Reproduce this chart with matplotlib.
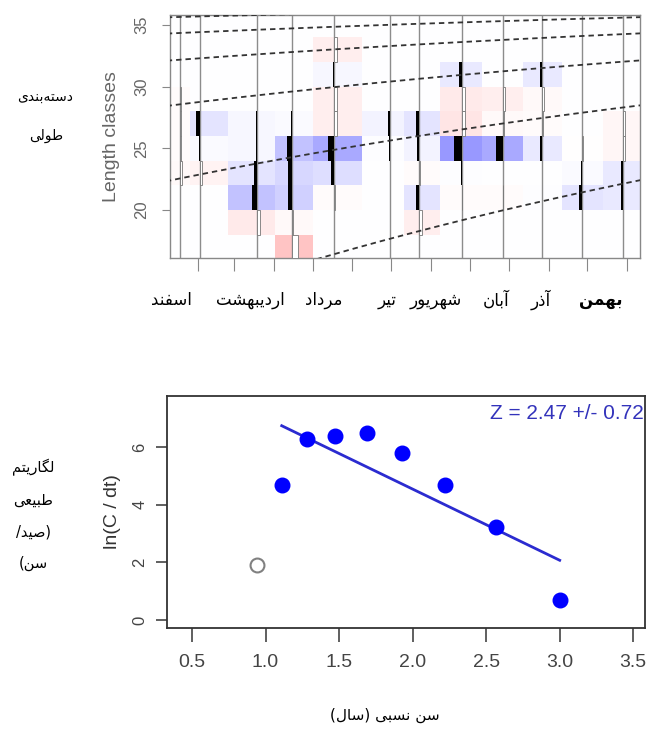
import numpy as np
import matplotlib
matplotlib.use("Agg")
import matplotlib.pyplot as plt
import matplotlib.dates as mdates
from matplotlib.colors import LinearSegmentedColormap
from matplotlib.patches import Rectangle
from matplotlib import font_manager

W, H = 648, 736

# ---------------- data (top panel: restructured length frequencies)
sample_dates = np.array(['2015-01-18', '2015-02-02', '2015-03-19', '2015-04-15',
                         '2015-05-18', '2015-06-30', '2015-07-23', '2015-08-25',
                         '2015-09-26', '2015-10-27', '2015-11-27', '2015-12-29'],
                        dtype='datetime64[D]')
length_edges = [16, 18, 20, 22, 24, 26, 28, 30, 32, 34, 36]
# one row per sample, one column per length class (16-18 ... 34-36)
scores = np.array([
    [0.00, 0.00, 0.00, -0.15, -0.10, -0.10, -0.10, 0.00, 0.00, 0.00],
    [0.00, 0.00, 0.00, -0.25, 0.10, 0.35, 0.00, 0.00, 0.00, 0.00],
    [0.00, -0.35, 0.60, 0.35, 0.15, 0.15, 0.00, 0.00, 0.00, 0.00],
    [-0.70, -0.15, 0.50, 0.45, 0.60, 0.10, 0.00, 0.00, 0.00, 0.00],
    [0.00, 0.00, -0.10, 0.40, 0.75, -0.30, -0.30, 0.15, -0.30, 0.00],
    [0.00, 0.00, 0.00, 0.00, 0.05, 0.20, 0.00, 0.00, 0.00, 0.00],
    [0.00, -0.30, 0.35, -0.10, 0.20, 0.35, 0.00, 0.00, 0.00, 0.00],
    [0.00, 0.00, -0.10, 0.05, 0.85, -0.40, -0.35, 0.30, 0.00, 0.00],
    [0.00, 0.00, -0.10, 0.00, 0.75, -0.15, -0.30, 0.00, 0.00, 0.00],
    [0.00, 0.00, 0.05, 0.00, 0.30, -0.10, -0.15, 0.30, 0.00, 0.00],
    [0.00, 0.00, 0.35, 0.10, -0.05, 0.00, 0.00, 0.00, 0.00, 0.00],
    [0.00, 0.00, 0.30, 0.30, -0.20, -0.20, 0.00, 0.00, 0.00, 0.00],
])
# von Bertalanffy growth curves drawn over the samples
Linf = 37.6
K = 0.51
cohort_births = np.array(['2009-04-02', '2010-04-02', '2011-04-02', '2012-04-02',
                          '2013-04-02', '2014-04-02'], dtype='datetime64[D]')
month_labels = ['اسفند', 'اردیبهشت', 'مرداد', 'تیر', 'شهریور', 'آبان', 'آذر', 'بهمن']
month_label_x = [171, 250, 324, 387, 436, 496, 541, 601]

# ---------------- data (bottom panel: catch curve)
rel_age = [1.11, 1.28, 1.47, 1.69, 1.93, 2.22, 2.57, 3.00]
ln_c_dt = [4.68, 6.27, 6.39, 6.47, 5.78, 4.68, 3.24, 0.70]
excluded_age = [0.94]
excluded_ln = [1.89]
Z = 2.47
Z_se = 0.72
intercept = 9.48

# ---------------- simple Persian shaping (presentation forms + RTL order)
FORMS = {
    'ا': ('\uFE8D', '\uFE8E', None, None), 'آ': ('\uFE81', '\uFE82', None, None),
    'د': ('\uFEA9', '\uFEAA', None, None), 'ذ': ('\uFEAB', '\uFEAC', None, None),
    'ر': ('\uFEAD', '\uFEAE', None, None), 'و': ('\uFEED', '\uFEEE', None, None),
    'ب': ('\uFE8F', '\uFE90', '\uFE91', '\uFE92'), 'ت': ('\uFE95', '\uFE96', '\uFE97', '\uFE98'),
    'س': ('\uFEB1', '\uFEB2', '\uFEB3', '\uFEB4'), 'ش': ('\uFEB5', '\uFEB6', '\uFEB7', '\uFEB8'),
    'ص': ('\uFEB9', '\uFEBA', '\uFEBB', '\uFEBC'), 'ط': ('\uFEC1', '\uFEC2', '\uFEC3', '\uFEC4'),
    'ع': ('\uFEC9', '\uFECA', '\uFECB', '\uFECC'), 'ف': ('\uFED1', '\uFED2', '\uFED3', '\uFED4'),
    'ل': ('\uFEDD', '\uFEDE', '\uFEDF', '\uFEE0'), 'م': ('\uFEE1', '\uFEE2', '\uFEE3', '\uFEE4'),
    'ن': ('\uFEE5', '\uFEE6', '\uFEE7', '\uFEE8'), 'ه': ('\uFEE9', '\uFEEA', '\uFEEB', '\uFEEC'),
    'ی': ('\uFBFC', '\uFBFD', '\uFBFE', '\uFBFF'), 'گ': ('\uFB92', '\uFB93', '\uFB94', '\uFB95'),
}


def fa(text):
    chars = list(text.replace('\u064A', '\u06CC'))
    out = []
    for i, c in enumerate(chars):
        if c not in FORMS:
            if c != '\u200c':
                out.append(c)
            continue
        f = FORMS[c]
        prev = chars[i - 1] if i > 0 else None
        nxt = chars[i + 1] if i < len(chars) - 1 else None
        jp = prev in FORMS and FORMS[prev][2] is not None
        jn = f[2] is not None and nxt in FORMS
        if jp and jn:
            out.append(f[3])
        elif jp:
            out.append(f[1])
        elif jn:
            out.append(f[2])
        else:
            out.append(f[0])
    return ''.join(reversed(out)).translate(str.maketrans('()', ')('))


names = {f.name for f in font_manager.fontManager.ttflist}
narrow = 'Liberation Sans Narrow' if 'Liberation Sans Narrow' in names else 'Liberation Sans'
plt.rcParams['font.family'] = [narrow, 'DejaVu Sans']
FA = ['DejaVu Sans']


def fx(px):
    return px / W


def fy(py):
    return 1 - py / H


fig = plt.figure(figsize=(W / 100, H / 100), dpi=100)

# ================= top panel
ax1 = fig.add_axes([fx(170), fy(258), 470 / W, 243 / H])
xs = mdates.date2num(sample_dates)
edges = np.concatenate([[xs[0] - (xs[1] - xs[0]) / 2], (xs[:-1] + xs[1:]) / 2,
                        [xs[-1] + (xs[-1] - xs[-2]) / 2]])
cmap = LinearSegmentedColormap.from_list('rb', ['#ff9a9a', '#ffffff', '#7c7cff'])
shade = np.sign(scores) * np.abs(scores) ** 1.5
ax1.pcolormesh(edges, length_edges, shade.T, cmap=cmap, vmin=-1, vmax=1, zorder=1)

for x in xs:
    ax1.axvline(x, color='#8c8c8c', lw=1.0, zorder=2)

bar_w = 7.0  # days per unit score
for i, x in enumerate(xs):
    for j, s in enumerate(scores[i]):
        lo = length_edges[j]
        if s > 0.03:
            ax1.add_patch(Rectangle((x - s * bar_w, lo), s * bar_w, 2, fc='black', ec='none', zorder=3))
        elif s < -0.03:
            ax1.add_patch(Rectangle((x, lo), -s * bar_w, 2, fc='white', ec='#777777', lw=0.6, zorder=3))

t0 = mdates.date2num(np.datetime64('2015-01-01'))
tt = np.linspace(t0 - 30, t0 + 400, 300)
for b in mdates.date2num(cohort_births):
    age = (tt - b) / 365.25
    ax1.plot(tt, Linf * (1 - np.exp(-K * age)), color='#333333', lw=1.3,
             ls=(0, (3, 2.2)), zorder=4)

ax1.set_xlim(mdates.date2num(np.datetime64('2015-01-10')), mdates.date2num(np.datetime64('2016-01-11')))
ax1.set_ylim(16.1, 35.8)
ax1.xaxis.set_major_locator(mdates.MonthLocator())
ax1.set_xticklabels([])
ax1.set_yticks([20, 25, 30, 35])
ax1.tick_params(axis='x', direction='out', length=9, color='#888888')
ax1.tick_params(axis='y', direction='out', length=6, color='#888888', labelcolor='#666666',
                labelsize=12, pad=9)
for lab in ax1.get_yticklabels():
    lab.set_rotation(90)
    lab.set_va('center')
for sp in ax1.spines.values():
    sp.set_color('#888888')
    sp.set_linewidth(1.0)
ax1.set_ylabel('Length classes', color='#666666', fontsize=14, labelpad=10)

for lab, x in zip(month_labels, month_label_x):
    fig.text(fx(x), fy(300), fa(lab), family=FA, fontsize=12, ha='center', va='center',
             fontweight='bold' if lab == 'بهمن' else 'normal')

fig.text(fx(45), fy(97), fa('دسته\u200cبندی'), family=FA, fontsize=10, ha='center', va='center')
fig.text(fx(46), fy(136), fa('طولی'), family=FA, fontsize=10, ha='center', va='center')

# ================= bottom panel
ax2 = fig.add_axes([fx(167), fy(628), 478 / W, 232 / H])
ax2.plot([rel_age[0], rel_age[-1]],
         [intercept - Z * rel_age[0], intercept - Z * rel_age[-1]],
         color='#2b2bd0', lw=2, zorder=2)
ax2.scatter(rel_age, ln_c_dt, s=110, color='#0000ff', zorder=3)
ax2.plot(excluded_age, excluded_ln, 'o', mfc='none', mec='#808080', mew=1.5, ms=10, zorder=3)
ax2.text(0.997, 0.925, f'Z = {Z} +/- {Z_se}', transform=ax2.transAxes, ha='right', va='center',
         color='#3333bb', fontsize=15)
ax2.set_xlim(0.33, 3.58)
ax2.set_ylim(-0.28, 7.77)
ax2.set_xticks([0.5, 1.0, 1.5, 2.0, 2.5, 3.0, 3.5])
ax2.set_xticklabels(['0.5', '1.0', '1.5', '2.0', '2.5', '3.0', '3.5'])
ax2.set_yticks([0, 2, 4, 6])
ax2.tick_params(axis='x', direction='out', length=10, width=1.2, color='#444444', labelcolor='#444444',
                labelsize=14, pad=9)
ax2.tick_params(axis='y', direction='out', length=8, width=1.2, color='#444444', labelcolor='#444444',
                labelsize=12, pad=6)
for lab in ax2.get_yticklabels():
    lab.set_rotation(90)
    lab.set_va('center')
for sp in ax2.spines.values():
    sp.set_color('#333333')
    sp.set_linewidth(1.3)
ax2.set_ylabel('ln(C / dt)', color='#333333', fontsize=14, labelpad=8)

for txt, y in zip(['لگاریتم', 'طبیعی', '(صید/', 'سن)'], [467, 500, 532, 563]):
    fig.text(fx(33), fy(y), fa(txt), family=FA, fontsize=10.5, ha='center', va='center')
fig.text(fx(385), fy(715), fa('سن نسبی (سال)'), family=FA, fontsize=11, ha='center', va='center')

fig.savefig('out.png', dpi=100)
